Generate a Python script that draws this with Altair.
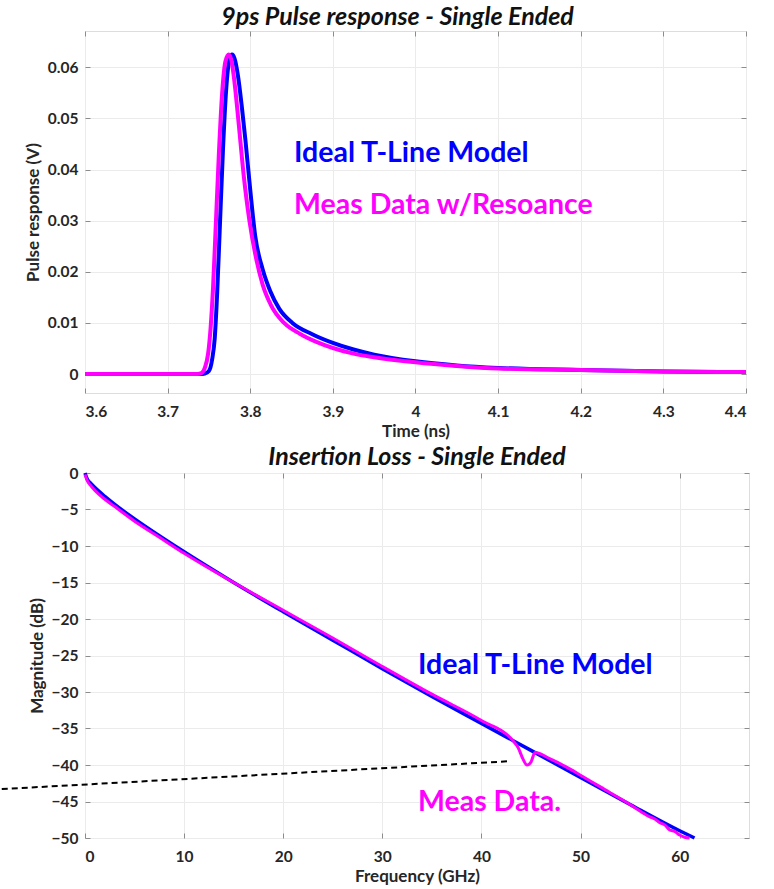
import altair as alt
import pandas as pd

# ---------------- Pulse response (top) ----------------
t_ideal = [3.60, 3.70, 3.740, 3.745, 3.750, 3.754, 3.757, 3.760, 3.763, 3.767, 3.771, 3.775, 3.778,
           3.781, 3.785, 3.790, 3.794, 3.800, 3.806, 3.815, 3.824, 3.835, 3.851, 3.875, 3.900,
           3.925, 3.950, 4.000, 4.050, 4.100, 4.200, 4.300, 4.400]
v_ideal = [0, 0, 0, 0.0001, 0.0006, 0.003, 0.007, 0.016, 0.028, 0.044, 0.056, 0.0617, 0.0625,
           0.0617, 0.0585, 0.052, 0.046, 0.036, 0.027, 0.0205, 0.0163, 0.0128, 0.0100, 0.0078, 0.0061,
           0.0048, 0.0038, 0.0025, 0.0017, 0.0012, 0.0008, 0.0005, 0.0004]

t_meas = [3.60, 3.70, 3.736, 3.741, 3.745, 3.749, 3.752, 3.755, 3.758, 3.762, 3.766, 3.770, 3.774,
          3.777, 3.781, 3.786, 3.792, 3.799, 3.806, 3.815, 3.825, 3.841, 3.860, 3.880, 3.900,
          3.925, 3.950, 4.000, 4.050, 4.100, 4.200, 4.300, 4.400]
v_meas = [0, 0, 0, 0.0002, 0.0012, 0.004, 0.009, 0.017, 0.028, 0.043, 0.055, 0.0612, 0.0625,
          0.0615, 0.057, 0.049, 0.039, 0.030, 0.0235, 0.0175, 0.0135, 0.0100, 0.0079, 0.0063, 0.0051,
          0.0040, 0.0033, 0.0023, 0.0016, 0.0011, 0.0008, 0.0005, 0.0004]

time_ticks = [3.6, 3.7, 3.8, 3.9, 4.0, 4.1, 4.2, 4.3, 4.4]
pulse_ticks = [0, 0.01, 0.02, 0.03, 0.04, 0.05, 0.06]
pulse_labels = ["Ideal T-Line Model", "Meas Data w/Resoance"]
pulse_label_t = [3.853, 3.853]
pulse_label_v = [0.0433, 0.0331]

# ---------------- Insertion loss (bottom) ----------------
f_ideal = [0, 0.25, 0.5, 1, 2, 3, 5, 7.5, 10, 15, 20, 25, 30, 35, 40, 45, 50, 55, 60, 61.5]
il_ideal = [0, -0.9, -1.3, -2.0, -3.2, -4.3, -6.3, -8.6, -10.8, -15.0, -19.0, -22.9, -26.8,
            -30.6, -34.3, -38.0, -41.7, -45.4, -49.0, -50.0]

f_meas = [0, 0.25, 0.5, 1, 2, 3, 5, 7.5, 10, 15, 20, 25, 30, 35, 40, 43.2, 43.7, 44.2, 44.6,
          45.0, 45.4, 47, 49, 50, 52, 55, 57, 57.5, 58, 58.5, 59, 59.5, 60, 60.5, 61]
il_meas = [-0.2, -1.1, -1.6, -2.4, -3.6, -4.6, -6.6, -8.8, -11.0, -15.0, -18.8, -22.6, -26.5,
           -30.3, -33.9, -36.7, -37.6, -39.2, -40.0, -39.6, -38.3, -39.2, -40.6, -41.4, -43.0,
           -45.4, -47.1, -47.4, -47.9, -48.2, -48.9, -49.1, -49.6, -49.9, -50.0]

freq_ticks = [0, 10, 20, 30, 40, 50, 60]
mag_ticks = [0, -5, -10, -15, -20, -25, -30, -35, -40, -45, -50]
il_labels = ["Ideal T-Line Model", "Meas Data."]
il_label_f = [33.6, 33.6]
il_label_db = [-26.3, -45.1]

dash_f = [-8.4, 42.6]
dash_db = [-43.3, -39.5]

BLUE = "#0000FF"
MAGENTA = "#FF00FF"
FONT = "Lato"
GRID = "#ebebeb"
LABEL = "#262626"
TICK = "#8c8c8c"

pulse_ideal_df = pd.DataFrame({"t": t_ideal, "v": v_ideal})
pulse_meas_df = pd.DataFrame({"t": t_meas, "v": v_meas})
pulse_text_df = pd.DataFrame({"t": pulse_label_t, "v": pulse_label_v, "label": pulse_labels,
                              "c": [BLUE, MAGENTA]})
il_ideal_df = pd.DataFrame({"f": f_ideal, "db": il_ideal})
il_meas_df = pd.DataFrame({"f": f_meas, "db": il_meas})
il_text_df = pd.DataFrame({"f": il_label_f, "db": il_label_db, "label": il_labels,
                           "c": [BLUE, MAGENTA]})
dash_df = pd.DataFrame({"f": [dash_f[0]], "f2": [dash_f[1]], "db": [dash_db[0]], "db2": [dash_db[1]]})


def x_axis(values, title, fmt):
    return alt.Axis(values=values, format=fmt, title=title, grid=True, gridColor=GRID,
                    domain=False, tickSize=5, offset=-5, tickColor=TICK,
                    labelPadding=11, labelFont=FONT, labelFontSize=15.5, labelFontWeight="bold",
                    labelColor=LABEL, titleFont=FONT, titleFontSize=17, titleFontWeight="bold",
                    titleColor=LABEL, titlePadding=4)


def y_axis(values, title, fmt):
    return alt.Axis(values=values, format=fmt, title=title, grid=True, gridColor=GRID,
                    domain=False, tickSize=5, offset=-5, tickColor=TICK,
                    labelPadding=7, labelFont=FONT, labelFontSize=15.5, labelFontWeight="bold",
                    labelColor=LABEL, titleFont=FONT, titleFontSize=17, titleFontWeight="bold",
                    titleColor=LABEL, titlePadding=5)


def box_axis(values, orient):
    return alt.Axis(values=values, orient=orient, labels=False, title=None, grid=False,
                    domain=False, tickSize=5, offset=-5, tickColor=TICK)


# ---- top panel
tx = alt.Scale(domain=[3.6, 4.4], nice=False, zero=False)
ty = alt.Scale(domain=[-0.0037, 0.0671], nice=False, zero=False)
TXA = x_axis(time_ticks, "Time (ns)", "~g")
TYA = y_axis(pulse_ticks, "Pulse response (V)", "~g")

top_ideal = alt.Chart(pulse_ideal_df).mark_line(color=BLUE, strokeWidth=4, interpolate="monotone").encode(
    x=alt.X("t:Q", scale=tx, axis=TXA), y=alt.Y("v:Q", scale=ty, axis=TYA))
top_meas = alt.Chart(pulse_meas_df).mark_line(color=MAGENTA, strokeWidth=4, interpolate="monotone").encode(
    x=alt.X("t:Q", scale=tx, axis=TXA), y=alt.Y("v:Q", scale=ty, axis=TYA))
top_text = alt.Chart(pulse_text_df).mark_text(align="left", baseline="middle", font=FONT,
                                              fontWeight="bold", fontSize=28.5).encode(
    x=alt.X("t:Q", scale=tx, axis=TXA), y=alt.Y("v:Q", scale=ty, axis=TYA),
    text="label:N", color=alt.Color("c:N", scale=None))
top_box = alt.Chart(pulse_ideal_df.head(1)).mark_point(opacity=0).encode(
    x=alt.X("t:Q", scale=tx, axis=box_axis(time_ticks, "top")),
    y=alt.Y("v:Q", scale=ty, axis=box_axis(pulse_ticks, "right")),
)
top = alt.layer(alt.layer(top_ideal, top_meas, top_text), top_box).resolve_scale(
    x="independent", y="independent").properties(
    width=661, height=362,
    title=alt.TitleParams("9ps Pulse response - Single Ended", font=FONT, fontSize=25,
                          fontStyle="italic", fontWeight="bold", color="#111111", offset=1, dx=-18))

# ---- bottom panel
bx = alt.Scale(domain=[0, 67], nice=False, zero=False)
by = alt.Scale(domain=[-50, 0], nice=False, zero=False)
BXA = x_axis(freq_ticks, "Frequency (GHz)", "d")
BYA = y_axis(mag_ticks, "Magnitude (dB)", "d")

bot_ideal = alt.Chart(il_ideal_df).mark_line(color=BLUE, strokeWidth=3.5, interpolate="monotone").encode(
    x=alt.X("f:Q", scale=bx, axis=BXA), y=alt.Y("db:Q", scale=by, axis=BYA))
bot_meas = alt.Chart(il_meas_df).mark_line(color=MAGENTA, strokeWidth=3, interpolate="monotone").encode(
    x=alt.X("f:Q", scale=bx, axis=BXA), y=alt.Y("db:Q", scale=by, axis=BYA))
bot_text = alt.Chart(il_text_df).mark_text(align="left", baseline="middle", font=FONT,
                                           fontWeight="bold", fontSize=28.5).encode(
    x=alt.X("f:Q", scale=bx, axis=BXA), y=alt.Y("db:Q", scale=by, axis=BYA),
    text="label:N", color=alt.Color("c:N", scale=None))
bot_dash = alt.Chart(dash_df).mark_rule(color="black", strokeWidth=2, strokeDash=[6, 4], clip=False).encode(
    x=alt.X("f:Q", scale=bx, axis=BXA), x2="f2:Q",
    y=alt.Y("db:Q", scale=by, axis=BYA), y2="db2:Q")
bot_box = alt.Chart(il_ideal_df.head(1)).mark_point(opacity=0).encode(
    x=alt.X("f:Q", scale=bx, axis=box_axis(freq_ticks, "top")),
    y=alt.Y("db:Q", scale=by, axis=box_axis(mag_ticks, "right")),
)
bottom = alt.layer(alt.layer(bot_ideal, bot_meas, bot_text, bot_dash), bot_box).resolve_scale(
    x="independent", y="independent").properties(
    width=664, height=365,
    title=alt.TitleParams("Insertion Loss - Single Ended", font=FONT, fontSize=25,
                          fontStyle="italic", fontWeight="bold", color="#111111", offset=-4))

chart = alt.vconcat(top, bottom, spacing=4).properties(
    padding={"left": 0, "top": 4, "right": 5, "bottom": 5}
).configure_view(stroke=TICK, strokeWidth=1.5).configure(background="white")

chart.save("out.html", embed_options={"renderer": "svg", "actions": False})
